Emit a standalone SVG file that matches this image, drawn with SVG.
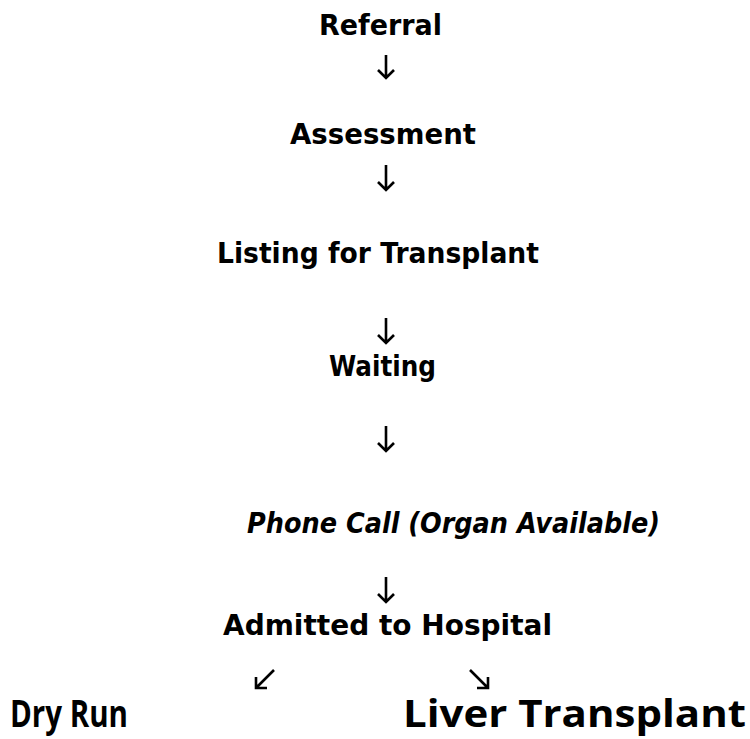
<svg xmlns="http://www.w3.org/2000/svg" width="750" height="739" viewBox="0 0 750 739">
<style>
.t{font-family:"DejaVu Sans","Verdana",sans-serif;font-weight:bold;font-size:29px;fill:#000}
.i{font-style:oblique}
.c{font-family:"Open Sans","Noto Sans",sans-serif;font-weight:bold;font-size:37px;fill:#000}
.a{fill:none;stroke:#000;stroke-width:2.6;stroke-linecap:butt;stroke-linejoin:miter}
</style>
<rect width="750" height="739" fill="#fff"/>
<g id="referral"><text class="t" x="319" y="35" textLength="123" lengthAdjust="spacingAndGlyphs">Referral</text></g>
<g id="assessment"><text class="t" x="290" y="144" textLength="186" lengthAdjust="spacingAndGlyphs">Assessment</text></g>
<g id="listing"><text class="t" x="217" y="263" textLength="322" lengthAdjust="spacingAndGlyphs">Listing for Transplant</text></g>
<g id="waiting"><text class="t" x="329" y="376" textLength="107" lengthAdjust="spacingAndGlyphs">Waiting</text></g>
<g id="phone"><text class="t i" x="247" y="533" textLength="413" lengthAdjust="spacingAndGlyphs">Phone Call (Organ Available)</text></g>
<g id="admitted"><text class="t" x="223" y="635" textLength="329" lengthAdjust="spacingAndGlyphs">Admitted to Hospital</text></g>
<g id="dryrun"><text class="c" x="10" y="727" font-size="33" textLength="118" lengthAdjust="spacingAndGlyphs">Dry Run</text></g>
<g id="liver"><text class="c" x="403" y="727" textLength="343" lengthAdjust="spacingAndGlyphs">Liver Transplant</text></g>
<g id="connectors">
<path class="a" d="M386 55V78M378 70L386 78L394 70"/>
<path class="a" d="M386 165V190M378 182L386 190L394 182"/>
<path class="a" d="M386 318V343M378 335L386 343L394 335"/>
<path class="a" d="M386 426V451M378 443L386 451L394 443"/>
<path class="a" d="M386 577V602M378 594L386 602L394 594"/>
<path class="a" d="M274 670L256 688M256 677V688H267"/>
<path class="a" d="M470 670L488 688M488 677V688H477"/>
</g>
</svg>
